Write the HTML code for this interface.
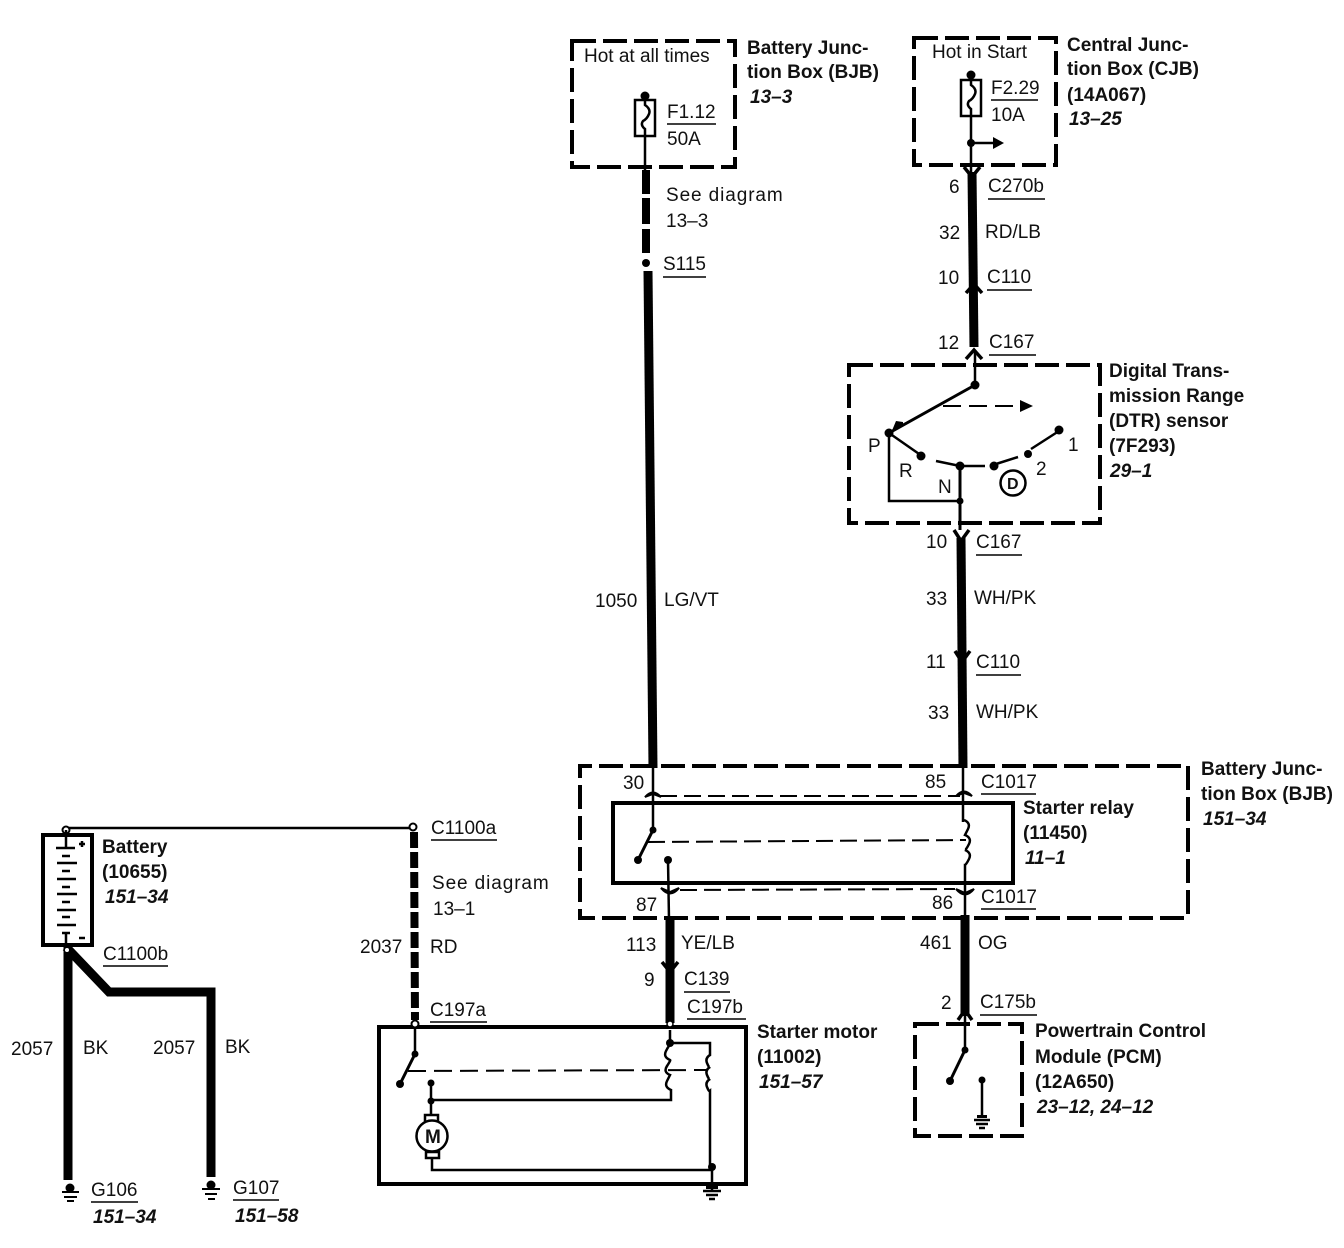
<!DOCTYPE html>
<html><head><meta charset="utf-8"><style>
html,body{margin:0;padding:0;background:#fff}
svg{display:block}
text{font-family:"Liberation Sans",sans-serif;font-size:19px;fill:#111}
.b{font-weight:bold}
.i{font-weight:bold;font-style:italic}
.s{letter-spacing:.9px}
.d{fill:none;stroke:#000;stroke-width:4;stroke-dasharray:24 7}
.w{fill:none;stroke:#000;stroke-width:2.5}
.t{fill:none;stroke:#000;stroke-width:9}
.k{fill:none;stroke:#000;stroke-width:3.5}
.u{stroke:#000;stroke-width:1.5}
.h{fill:none;stroke:#000;stroke-width:2;stroke-dasharray:17 7}
</style></head><body>
<svg width="1344" height="1248" viewBox="0 0 1344 1248" xmlns="http://www.w3.org/2000/svg">
<!-- BJB top -->
<rect class="d" x="572" y="41" width="163" height="126"/>
<text x="584" y="62">Hot at all times</text>
<circle cx="645" cy="96" r="4.5"/>
<line class="w" x1="645" y1="96" x2="645" y2="170"/>
<rect x="635" y="100" width="20" height="36" fill="#fff" stroke="#000" stroke-width="2.5"/>
<path class="w" d="M645 100v5q6 4 4 9t-6 7q-3 4 2 8v7"/>
<text x="667" y="118">F1.12</text><line class="u" x1="667" y1="124" x2="716" y2="124"/>
<text x="667" y="145">50A</text>
<text class="b" x="747" y="54">Battery Junc-</text>
<text class="b" x="747" y="78">tion Box (BJB)</text>
<text class="i" x="750" y="103">13–3</text>
<!-- long left wire -->
<line x1="646" y1="170" x2="646" y2="255" stroke="#000" stroke-width="8" stroke-dasharray="24 4 26 5"/>
<circle cx="646" cy="263" r="4"/>
<line class="t" x1="648" y1="271" x2="653" y2="768" stroke-width="8"/>
<text class="s" x="666" y="201">See diagram</text><text x="666" y="227">13–3</text>
<text x="663" y="270">S115</text><line class="u" x1="663" y1="277" x2="706" y2="277"/>
<text x="595" y="607">1050</text><text x="664" y="606">LG/VT</text>
<!-- CJB -->
<rect class="d" x="914" y="38" width="142" height="127"/>
<text x="932" y="58">Hot in Start</text>
<circle cx="971" cy="75" r="4.5"/>
<rect x="961" y="80" width="20" height="36" fill="#fff" stroke="#000" stroke-width="2.5"/>
<path class="w" d="M971 75v10q6 4 4 9t-6 7q-3 4 2 8v33"/>
<text x="991" y="94">F2.29</text><line class="u" x1="991" y1="100" x2="1038" y2="100"/>
<text x="991" y="121">10A</text>
<circle cx="971" cy="143" r="4"/>
<line class="w" x1="971" y1="143" x2="995" y2="143"/><path d="M993 137l11 6-11 6z"/>
<text class="b" x="1067" y="51">Central Junc-</text>
<text class="b" x="1067" y="75">tion Box (CJB)</text>
<text class="b" x="1067" y="101">(14A067)</text>
<text class="i" x="1069" y="125">13–25</text>
<line class="w" x1="971" y1="143" x2="971" y2="172"/>
<path class="k" d="M964 167L972 177L980 167"/>
<line class="t" x1="972" y1="172" x2="974" y2="347" stroke-width="8"/>
<path class="k" d="M966 293L974 284L982 293M966 359L974 350L982 359"/>
<text x="949" y="193">6</text>
<text x="988" y="192">C270b</text><line class="u" x1="988" y1="199" x2="1045" y2="199"/>
<text x="939" y="239">32</text><text x="985" y="238">RD/LB</text>
<text x="938" y="284">10</text><text x="987" y="283">C110</text><line class="u" x1="987" y1="290" x2="1032" y2="290"/>
<text x="938" y="349">12</text><text x="989" y="348">C167</text><line class="u" x1="989" y1="355" x2="1036" y2="355"/>
<!-- DTR -->
<rect class="d" x="849" y="365" width="251" height="158"/>
<line class="w" x1="975" y1="350" x2="975" y2="385"/>
<circle cx="975" cy="385" r="4.5"/>
<line x1="975" y1="385" x2="889" y2="433" stroke="#000" stroke-width="3"/>
<path d="M903 425l-12 8 5-12 7 1z"/>
<line x1="943" y1="406" x2="1020" y2="406" stroke="#000" stroke-width="2" stroke-dasharray="18 8"/>
<path d="M1020 400l13 6-13 6z"/>
<circle cx="889" cy="433" r="4.5"/>
<path d="M889 433L922 456M936 461L960 466L985 466M996 464L1018 457M1031 449L1059 431" fill="none" stroke="#000" stroke-width="2.5"/>
<circle cx="921" cy="456" r="4.5"/><circle cx="960" cy="466" r="4.5"/><circle cx="994" cy="466" r="4.5"/><circle cx="1028" cy="454" r="4"/><circle cx="1059" cy="430" r="4.5"/>
<path class="w" d="M889 433V501H960"/><line x1="960" y1="466" x2="960" y2="530" stroke="#000" stroke-width="3"/><circle cx="960" cy="501" r="3.5"/>
<text x="868" y="452">P</text><text x="899" y="477">R</text><text x="938" y="493">N</text><text x="1036" y="475">2</text><text x="1068" y="451">1</text>
<circle cx="1013" cy="483" r="12.5" fill="#fff" stroke="#000" stroke-width="2.5"/><text class="b" x="1007" y="489" style="font-size:16px">D</text>
<text class="b" x="1109" y="377">Digital Trans-</text>
<text class="b" x="1109" y="402">mission Range</text>
<text class="b" x="1109" y="427">(DTR) sensor</text>
<text class="b" x="1109" y="452">(7F293)</text>
<text class="i" x="1110" y="477">29–1</text>
<!-- Lower right wire -->
<path class="k" d="M954 530L961 541L969 530"/>
<line class="t" x1="961" y1="538" x2="963" y2="768" stroke-width="9"/>
<path class="k" d="M955 651L962 662L970 651"/>
<text x="926" y="548">10</text><text x="976" y="548">C167</text><line class="u" x1="976" y1="555" x2="1022" y2="555"/>
<text x="926" y="605">33</text><text x="974" y="604">WH/PK</text>
<text x="926" y="668">11</text><text x="976" y="668">C110</text><line class="u" x1="976" y1="675" x2="1021" y2="675"/>
<text x="928" y="719">33</text><text x="976" y="718">WH/PK</text>
<!-- Relay -->
<path class="d" d="M1188 914V766H580V918H1188" stroke-dasharray="22 7"/>
<rect x="613" y="803" width="400" height="80" fill="none" stroke="#000" stroke-width="4"/>
<text x="623" y="789">30</text><text x="925" y="788">85</text><text x="981" y="788">C1017</text><line class="u" x1="981" y1="794" x2="1036" y2="794"/>
<text x="636" y="911">87</text><text x="932" y="909">86</text><text x="981" y="903">C1017</text><line class="u" x1="981" y1="909" x2="1036" y2="909"/>
<line class="w" x1="653" y1="768" x2="653" y2="830"/><circle cx="653" cy="830" r="3.5"/>
<line x1="653" y1="830" x2="638" y2="860" stroke="#000" stroke-width="3"/><circle cx="638" cy="860" r="4"/>
<line class="w" x1="963" y1="768" x2="963" y2="822"/>
<path class="w" d="M964 820q7 3 4 9t-3 6q7 3 4 9t-4 6q7 3 4 9t-4 6v60"/>
<line class="h" x1="648" y1="842" x2="966" y2="840"/>
<line class="h" x1="660" y1="796" x2="960" y2="796"/>
<line class="h" x1="680" y1="890" x2="955" y2="889"/>
<path d="M645 797q8-9 16 0l-8-3zM956 796q8-9 16 0l-8-3zM661 888q9 11 18 0l-9 4zM956 889q9 11 18 0l-9 4z" stroke="#000" stroke-width="2"/>
<circle cx="668" cy="860" r="4"/><line class="w" x1="668" y1="860" x2="669" y2="920"/>
<text class="b" x="1023" y="814">Starter relay</text>
<text class="b" x="1023" y="839">(11450)</text>
<text class="i" x="1025" y="864">11–1</text>
<text class="b" x="1201" y="775">Battery Junc-</text>
<text class="b" x="1201" y="800">tion Box (BJB)</text>
<text class="i" x="1203" y="825">151–34</text>
<!-- lower wires -->
<line class="t" x1="670" y1="918" x2="670" y2="1023" stroke-width="9"/>
<path class="k" d="M662 962L670 972L678 962"/>
<line class="t" x1="965" y1="915" x2="965" y2="1016" stroke-width="9"/>
<path class="k" d="M958 1020L965 1010L972 1020"/>
<text x="626" y="951">113</text><text x="681" y="949">YE/LB</text>
<text x="920" y="949">461</text><text x="978" y="949">OG</text>
<text x="644" y="986">9</text><text x="684" y="985">C139</text><line class="u" x1="684" y1="992" x2="730" y2="992"/>
<text x="687" y="1013">C197b</text><line class="u" x1="687" y1="1019" x2="746" y2="1019"/>
<text x="941" y="1009">2</text><text x="980" y="1008">C175b</text><line class="u" x1="980" y1="1015" x2="1037" y2="1015"/>
<!-- PCM -->
<rect class="d" x="915" y="1024" width="107" height="112"/>
<line class="w" x1="965" y1="1015" x2="965" y2="1050"/><circle cx="965" cy="1050" r="3.5"/>
<line x1="965" y1="1050" x2="950" y2="1081" stroke="#000" stroke-width="3"/><circle cx="950" cy="1081" r="4"/>
<circle cx="982" cy="1080" r="3.5"/><line class="w" x1="982" y1="1080" x2="982" y2="1117"/>
<path d="M977 1118h10v-3h-10z"/>
<line x1="974" y1="1120" x2="990" y2="1120" stroke="#000" stroke-width="2.5"/><line x1="976" y1="1124" x2="988" y2="1124" stroke="#000" stroke-width="2.5"/><line x1="979" y1="1128" x2="985" y2="1128" stroke="#000" stroke-width="2.5"/>
<text class="b" x="1035" y="1037">Powertrain Control</text>
<text class="b" x="1035" y="1063">Module (PCM)</text>
<text class="b" x="1035" y="1088">(12A650)</text>
<text class="i" x="1037" y="1113">23–12, 24–12</text>
<!-- C1100 wire -->
<line class="w" x1="66" y1="828" x2="413" y2="828" stroke-width="2"/>
<circle cx="66" cy="830" r="3.5" fill="#fff" stroke="#000" stroke-width="2"/>
<circle cx="413" cy="827" r="3.5" fill="#fff" stroke="#000" stroke-width="2"/>
<line x1="414" y1="832" x2="415" y2="1020" stroke="#000" stroke-width="8" stroke-dasharray="16 4"/>
<text x="431" y="834">C1100a</text><line class="u" x1="431" y1="840" x2="497" y2="840"/>
<text class="s" x="432" y="889">See diagram</text><text x="433" y="915">13–1</text>
<text x="360" y="953">2037</text><text x="430" y="953">RD</text>
<text x="430" y="1016">C197a</text><line class="u" x1="430" y1="1022" x2="487" y2="1022"/>
<!-- Starter motor -->
<rect x="379" y="1027" width="367" height="157" fill="none" stroke="#000" stroke-width="4"/>
<circle cx="415" cy="1024" r="3.5" fill="#fff" stroke="#000" stroke-width="2"/>
<circle cx="670" cy="1024" r="3" fill="#fff" stroke="#000" stroke-width="1.5"/>
<line class="w" x1="415" y1="1028" x2="415" y2="1054"/><circle cx="415" cy="1054" r="3.5"/>
<line x1="415" y1="1054" x2="400" y2="1084" stroke="#000" stroke-width="3"/><circle cx="400" cy="1084" r="4"/>
<line x1="408" y1="1071" x2="708" y2="1070" stroke="#000" stroke-width="2" stroke-dasharray="18 8"/>
<circle cx="431" cy="1083" r="3.5"/><circle cx="431" cy="1101" r="3.5"/>
<line class="w" x1="431" y1="1083" x2="431" y2="1115"/>
<path class="w" d="M431 1100H671V1090q-7-3-4-9t3-6q-7-3-3-9t3-6q-7-3-4-9t4-6V1030"/>
<circle cx="670" cy="1043" r="4"/>
<path class="w" d="M670 1043H710V1055q-5 3-3 8t3 4q-5 3-3 8t3 4q-5 3-3 8t3 4V1167"/>
<circle cx="712" cy="1167" r="4"/>
<line class="w" x1="712" y1="1167" x2="712" y2="1190"/>
<rect x="425" y="1115" width="13" height="7" fill="#fff" stroke="#000" stroke-width="2.5"/>
<circle cx="432" cy="1136" r="15.5" fill="#fff" stroke="#000" stroke-width="2.5"/>
<text class="b" x="425" y="1143" style="font-size:19px">M</text>
<rect x="426" y="1152" width="13" height="6" fill="#fff" stroke="#000" stroke-width="2.5"/>
<path class="w" d="M432 1158V1170H712"/>
<path d="M706 1186h12v3h-12z"/>
<line x1="703" y1="1191" x2="721" y2="1191" stroke="#000" stroke-width="2.5"/><line x1="706" y1="1195" x2="718" y2="1195" stroke="#000" stroke-width="2.5"/><line x1="709" y1="1199" x2="715" y2="1199" stroke="#000" stroke-width="2.5"/>
<text class="b" x="757" y="1038">Starter motor</text>
<text class="b" x="757" y="1063">(11002)</text>
<text class="i" x="759" y="1088">151–57</text>
<!-- Battery -->
<rect x="43" y="835" width="49" height="110" fill="#fff" stroke="#000" stroke-width="4"/>
<line class="w" x1="66" y1="830" x2="66" y2="847"/>
<line class="w" x1="56" y1="848" x2="75" y2="848"/>
<line class="w" x1="62" y1="856" x2="70" y2="856"/>
<line class="w" x1="57" y1="863" x2="77" y2="863"/>
<line class="w" x1="62" y1="871" x2="70" y2="871"/>
<line class="w" x1="57" y1="879" x2="76" y2="879"/>
<line class="w" x1="62" y1="887" x2="70" y2="887"/>
<line class="w" x1="57" y1="894" x2="77" y2="894"/>
<line class="w" x1="62" y1="902" x2="70" y2="902"/>
<line class="w" x1="57" y1="910" x2="76" y2="910"/>
<line class="w" x1="62" y1="917" x2="70" y2="917"/>
<line class="w" x1="57" y1="925" x2="76" y2="925"/>
<path class="w" d="M62 933H70M66 933V945"/>
<path class="w" d="M79 844h6M82 841v6"/>
<line class="w" x1="79" y1="938" x2="85" y2="938"/>
<text class="b" x="102" y="853">Battery</text>
<text class="b" x="102" y="878">(10655)</text>
<text class="i" x="105" y="903">151–34</text>
<text x="103" y="960">C1100b</text><line class="u" x1="103" y1="966" x2="168" y2="966"/>
<path class="t" d="M68 947V1180"/>
<path class="t" d="M66 947L109 992H211V1177" stroke-width="8"/>
<circle cx="67" cy="950" r="2" fill="#fff"/>
<text x="11" y="1055">2057</text><text x="83" y="1054">BK</text>
<text x="153" y="1054">2057</text><text x="225" y="1053">BK</text>
<circle cx="70" cy="1188" r="4.5"/>
<path d="M62 1191h17v2h-17zM64 1196h13v2h-13zM67 1200h7v2h-7z"/>
<circle cx="211" cy="1185" r="4.5"/>
<path d="M202 1188h18v2h-18zM205 1193h12v2h-12zM208 1198h7v2h-7z"/>
<text x="91" y="1196">G106</text><line class="u" x1="91" y1="1202" x2="138" y2="1202"/>
<text class="i" x="93" y="1223">151–34</text>
<text x="233" y="1194">G107</text><line class="u" x1="233" y1="1200" x2="279" y2="1200"/>
<text class="i" x="235" y="1222">151–58</text>
</svg>
</body></html>
